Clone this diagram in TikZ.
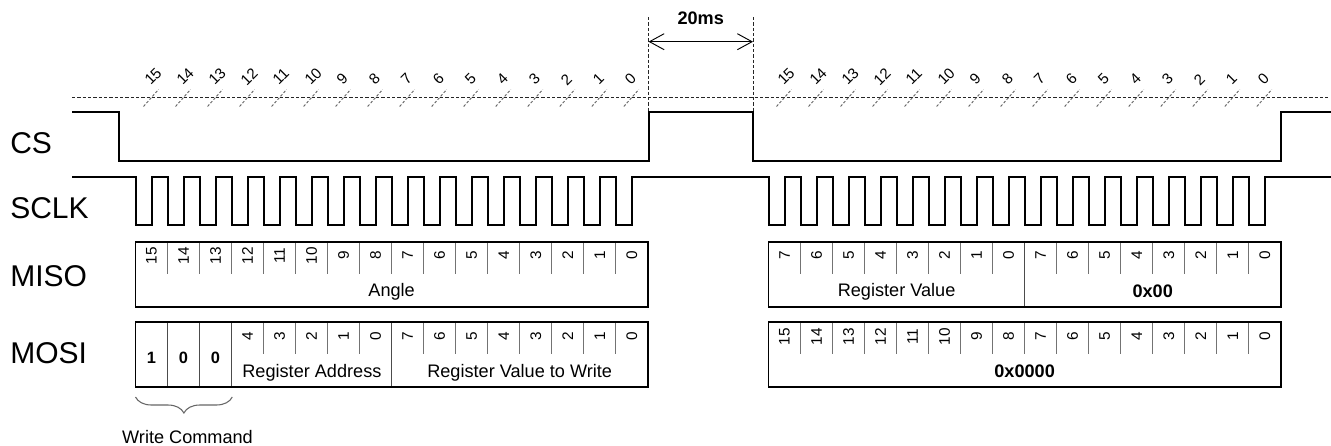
\documentclass[tikz,border=0pt]{standalone}
\usepackage{fontspec}
\setmainfont{Liberation Sans}
\usetikzlibrary{arrows.meta,decorations.pathreplacing}
\begin{document}
\begin{tikzpicture}[x=0.75pt,y=-0.75pt,
  sig/.style={line width=1.5pt, line join=miter},
  guide/.style={line width=0.75pt, dash pattern=on 2.4pt off 1.6pt, black!85},
  tickmark/.style={line width=0.7pt, dash pattern=on 2pt off 1.4pt, black!60},
  toplab/.style={rotate=45, anchor=west, inner sep=0pt, font=\fontsize{11.3}{13}\selectfont},
  siglab/.style={anchor=west, inner sep=0pt, font=\fontsize{22.5}{26}\selectfont},
  framebox/.style={draw, line width=1.4pt},
  divider/.style={draw=black!55, line width=0.8pt},
  fulldiv/.style={draw=black!70, line width=1pt},
  bitlab/.style={rotate=90, inner sep=0pt, font=\fontsize{11.5}{13}\selectfont},
  fieldlab/.style={inner sep=0pt, font=\fontsize{13.6}{16}\selectfont},
  boldlab/.style={inner sep=0pt, font=\bfseries\fontsize{13.6}{16}\selectfont},
  cmdbit/.style={inner sep=0pt, font=\bfseries\fontsize{12.3}{14}\selectfont},
  dimarrow/.style={line width=0.7pt, {Straight Barb[length=11pt,width=12pt]}-{Straight Barb[length=11pt,width=12pt]}}
]
\useasboundingbox (0,0) rectangle (1331,446);

% signal labels
\node[siglab] (lcs) at (10,143.3) {CS};
\node[siglab] (lsclk) at (10,208.3) {SCLK};
\node[siglab] (lmiso) at (10,275.8) {MISO};
\node[siglab] (lmosi) at (10,353.3) {MOSI};

% horizontal dashed guide
\coordinate (gl) at (72,97.5);
\coordinate (gr) at (1328,97.5);
\draw[guide] (gl) -- (gr);

% bit ticks and numbers
\foreach \k in {0,...,15}{
  \pgfmathsetmacro\xa{151.5+32.02*\k}
  \pgfmathsetmacro\xb{784.5+32.02*\k}
  \pgfmathtruncatemacro\lab{15-\k}
  \draw[tickmark] ({\xa-8},106.5) -- ({\xa+7},89.5);
  \draw[tickmark] ({\xb-8},106.5) -- ({\xb+7},89.5);
  \node[toplab] (ta\k) at ({\xa-4.5},82.5) {\lab};
  \node[toplab] (tb\k) at ({\xb-4.5},82.5) {\lab};
}

% 20ms dimension
\coordinate (va1) at (648.5,17);
\coordinate (va2) at (648.5,112.3);
\coordinate (vb1) at (753,17);
\coordinate (vb2) at (753,112.3);
\draw[guide] (va1) -- (va2);
\draw[guide] (vb1) -- (vb2);
\coordinate (aa) at (648.5,41.7);
\coordinate (ab) at (753,41.7);
\draw[dimarrow] (aa) -- (ab);
\node[boldlab] (t20) at (700.7,18) {20ms};

% CS
\draw[sig] (72,112.3) -- (119.3,112.3) -- (119.3,161.3) -- (648.5,161.3) -- (648.5,112.3)
  -- (753,112.3) -- (753,161.3) -- (1280.7,161.3) -- (1280.7,112.3) -- (1331,112.3);

% SCLK
\draw[sig] (72,177.3) -- (135.5,177.3) -- (135.5,225)
  \foreach \k in {0,...,14}{ -- ({151.5+32.02*\k},225) -- ({151.5+32.02*\k},177.3) -- ({167.5+32.02*\k},177.3) -- ({167.5+32.02*\k},225) }
  -- (631.8,225) -- (631.8,177.3) -- (769,177.3) -- (769,225)
  \foreach \k in {0,...,14}{ -- ({784.5+32.02*\k},225) -- ({784.5+32.02*\k},177.3) -- ({800.5+32.02*\k},177.3) -- ({800.5+32.02*\k},225) }
  -- (1264.8,225) -- (1264.8,177.3) -- (1331,177.3);

% ---------- frame 1 MISO ----------
\foreach \k in {1,...,15}{
  \pgfmathsetmacro\xd{135.5+32.02*\k}
  \draw[divider] (\xd,242.3) -- (\xd,274.3);
}
\foreach \k in {0,...,15}{
  \pgfmathsetmacro\xc{135.5+32.02*(\k+0.5)}
  \pgfmathtruncatemacro\lab{15-\k}
  \node[bitlab] (ma\k) at (\xc,255.5) {\lab};
}
\draw[framebox] (135.5,242.3) rectangle (647.8,307.3);
\node[fieldlab] (angle) at (391.6,291.7) {Angle};

% ---------- frame 1 MOSI ----------
\foreach \k in {1,2,3,8}{
  \pgfmathsetmacro\xd{135.5+32.02*\k}
  \draw[fulldiv] (\xd,322.3) -- (\xd,387.3);
}
\foreach \k in {4,5,6,7,9,10,11,12,13,14,15}{
  \pgfmathsetmacro\xd{135.5+32.02*\k}
  \draw[divider] (\xd,322.3) -- (\xd,354.3);
}
\foreach \k/\lab in {3/4,4/3,5/2,6/1,7/0,8/7,9/6,10/5,11/4,12/3,13/2,14/1,15/0}{
  \pgfmathsetmacro\xc{135.5+32.02*(\k+0.5)}
  \node[bitlab] (mo\k) at (\xc,336.7) {\lab};
}
\foreach \k/\lab in {0/1,1/0,2/0}{
  \pgfmathsetmacro\xc{135.5+32.02*(\k+0.5)}
  \node[cmdbit] (cb\k) at (\xc,358.3) {\lab};
}
\draw[framebox] (135.5,322.3) rectangle (647.8,387.3);
\node[fieldlab] (raddr) at (311.9,373.3) {Register Address};
\node[fieldlab] (rval) at (519.7,373.3) {Register Value to Write};

% brace
\coordinate (br1) at (135.5,397);
\coordinate (br2) at (232.3,397);
\draw[black!60, line width=0.8pt, decorate, decoration={brace, mirror, amplitude=12pt}] (br1) -- (br2);
\node[fieldlab] (wcmd) at (187.5,436.7) {Write Command};

% ---------- frame 2 MISO ----------
\foreach \k in {1,...,7,9,10,11,12,13,14,15}{
  \pgfmathsetmacro\xd{768.5+32.02*\k}
  \draw[divider] (\xd,242.3) -- (\xd,274.3);
}
\draw[fulldiv] ({768.5+32.02*8},242.3) -- ({768.5+32.02*8},307.3);
\foreach \k in {0,...,15}{
  \pgfmathsetmacro\xc{768.5+32.02*(\k+0.5)}
  \pgfmathtruncatemacro\lab{mod(15-\k,8)}
  \node[bitlab] (mb\k) at (\xc,255.5) {\lab};
}
\draw[framebox] (768.5,242.3) rectangle (1280.8,307.3);
\node[fieldlab] (regv) at (896.6,291.7) {Register Value};
\node[boldlab] (zx2) at (1152.7,291.7) {0x00};

% ---------- frame 2 MOSI ----------
\foreach \k in {1,...,15}{
  \pgfmathsetmacro\xd{768.5+32.02*\k}
  \draw[divider] (\xd,322.3) -- (\xd,354.3);
}
\foreach \k in {0,...,15}{
  \pgfmathsetmacro\xc{768.5+32.02*(\k+0.5)}
  \pgfmathtruncatemacro\lab{15-\k}
  \node[bitlab] (mq\k) at (\xc,336.7) {\lab};
}
\draw[framebox] (768.5,322.3) rectangle (1280.8,387.3);
\node[boldlab] (zx4) at (1024.6,371.7) {0x0000};

\end{tikzpicture}
\end{document}
